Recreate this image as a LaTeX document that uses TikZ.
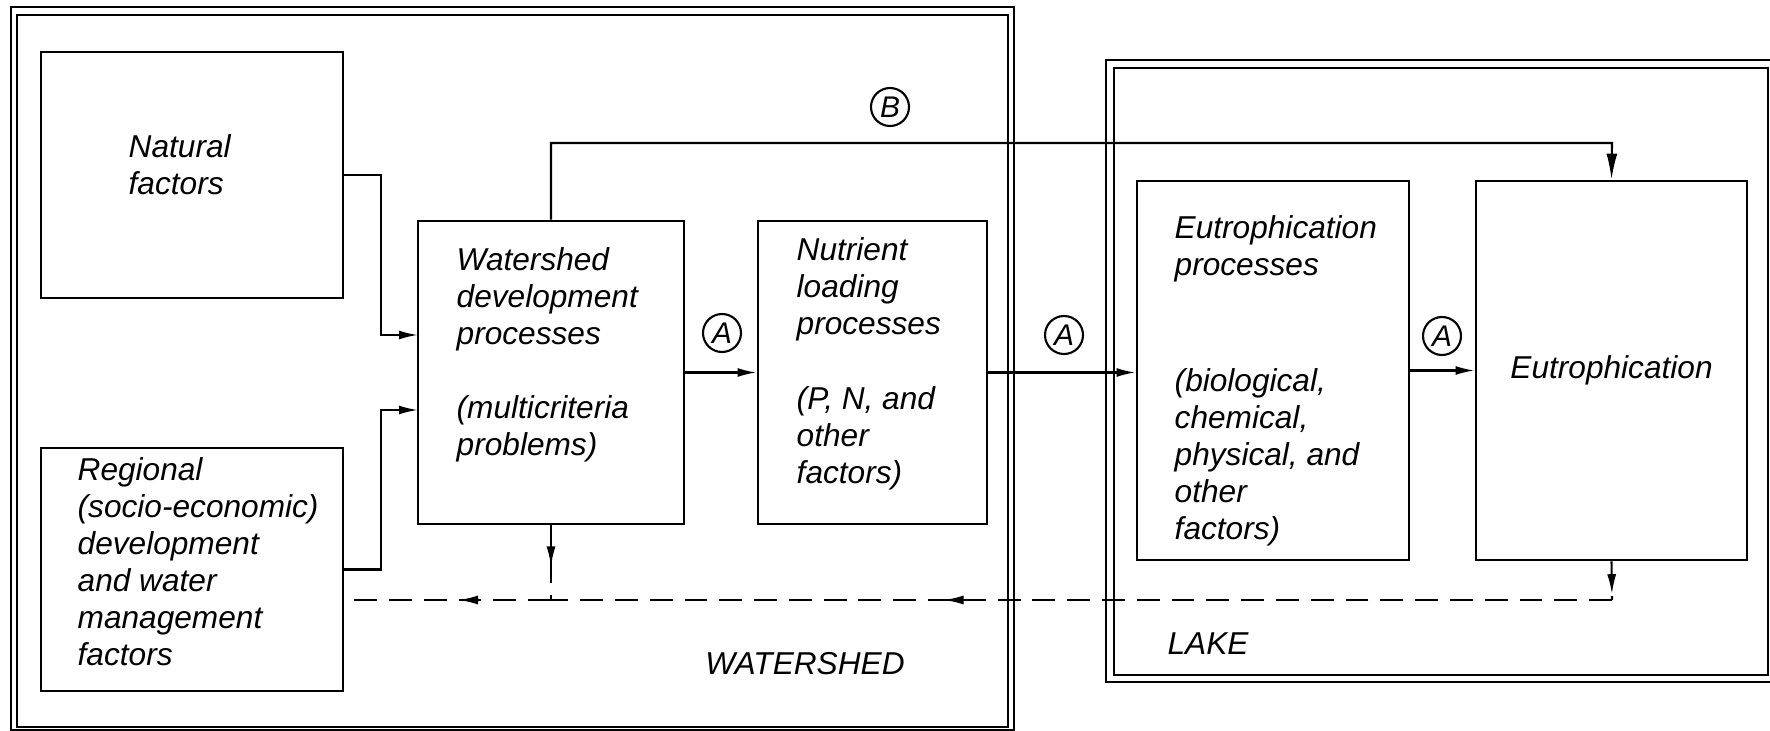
\documentclass[tikz,border=0pt]{standalone}
\usepackage{fontspec}
\setmainfont{Liberation Sans}
\usetikzlibrary{arrows.meta,decorations.markings}

\begin{document}
\begin{tikzpicture}[
  block/.style={draw, rectangle, line width=0.8pt, inner sep=0pt},
  lbl/.style={anchor=north west, inner sep=0pt, align=left, font=\itshape\fontsize{9}{10.5}\selectfont},
  frame/.style={line width=0.6pt},
  link/.style={line width=0.6pt, -{Latex[length=1.9mm,width=0.9mm]}},
  back/.style={line width=0.6pt, dash pattern=on 6.5pt off 3.4pt},
  midarrow/.style={postaction={decorate}, decoration={markings,
      mark=at position #1 with {\arrow{Latex[length=2mm,width=0.9mm]}}}},
  tag/.style={draw, circle, line width=0.6pt, minimum size=3.8mm, inner sep=0pt,
      font=\itshape\fontsize{8.5}{9}\selectfont},
]

\useasboundingbox (0,0) rectangle (17.70,-7.31);

% watershed and lake frames
\draw[frame] (0.11,-0.07) rectangle (10.14,-7.30);
\draw[frame] (0.17,-0.15) rectangle (10.08,-7.27);
\draw[frame] (11.06,-0.60) rectangle (17.74,-6.82);
\draw[frame] (11.14,-0.68) rectangle (17.68,-6.75);

\node[block, minimum width=3.02cm, minimum height=2.46cm] (nat) at (1.92,-1.75) {};
\node[block, minimum width=3.02cm, minimum height=2.43cm] (reg) at (1.92,-5.695) {};
\node[block, minimum width=2.66cm, minimum height=3.03cm] (wdp) at (5.51,-3.725) {};
\node[block, minimum width=2.29cm, minimum height=3.03cm] (nut) at (8.725,-3.725) {};
\node[block, minimum width=2.72cm, minimum height=3.79cm] (eup) at (12.73,-3.705) {};
\node[block, minimum width=2.71cm, minimum height=3.79cm,
      font=\itshape\fontsize{9}{10.5}\selectfont] (eut) at (16.115,-3.705) {Eutrophication};

\node[lbl] (natt) at (1.28,-1.34) {Natural\\factors};
\node[lbl] (regt) at (0.77,-4.57) {Regional\\(socio-economic)\\development\\and water\\management\\factors};
\node[lbl] (wdpt) at (4.56,-2.47) {Watershed\\development\\processes\\[10.5pt](multicriteria\\problems)};
\node[lbl] (nutt) at (7.96,-2.37) {Nutrient\\loading\\processes\\[11pt](P, N, and\\other\\factors)};
\node[lbl] (eupt) at (11.74,-2.15) {Eutrophication\\processes\\[22.5pt](biological,\\chemical,\\physical, and\\other\\factors)};

\coordinate (in1) at (4.18,-3.35);
\coordinate (in2) at (4.18,-4.10);
\coordinate (bturn) at (16.12,-1.43);
\coordinate (fbk) at (16.12,-6.00);
\coordinate (fbw) at (5.51,-6.00);

\draw[link] (nat.east) -| ([xshift=-3.7mm]in1) -- (in1);
\draw[link] (reg.east) -| ([xshift=-3.7mm]in2) -- (in2);
\draw[link] (wdp.east) -- (nut.west);
\draw[link] (nut.east) -- (nut.east -| eup.west);
\draw[link] (eup.east) -- (eut.west);
\draw[line width=0.6pt, -{Latex[length=2.6mm,width=1.1mm]}] (wdp.north) |- (bturn) -- (eut.north);

\draw[back, midarrow=0.85] (eut.south) -- (fbk);
\draw[back, midarrow=0.63] (fbk) -- (fbw);
\draw[back, midarrow=0.55] (wdp.south) -- (fbw);
\draw[back, midarrow=0.45] (fbw) -- (fbw -| reg.east);

\node[tag] (a1) at (7.22,-3.33) {A};
\node[tag] (a2) at (10.64,-3.35) {A};
\node[tag] (a3) at (14.42,-3.36) {A};
\node[tag] (b1) at (8.90,-1.07) {B};

\node[font=\itshape\fontsize{9}{10}\selectfont] (wsh) at (8.05,-6.64) {WATERSHED};
\node[font=\itshape\fontsize{9}{10}\selectfont] (lake) at (12.08,-6.44) {LAKE};

\end{tikzpicture}
\end{document}
